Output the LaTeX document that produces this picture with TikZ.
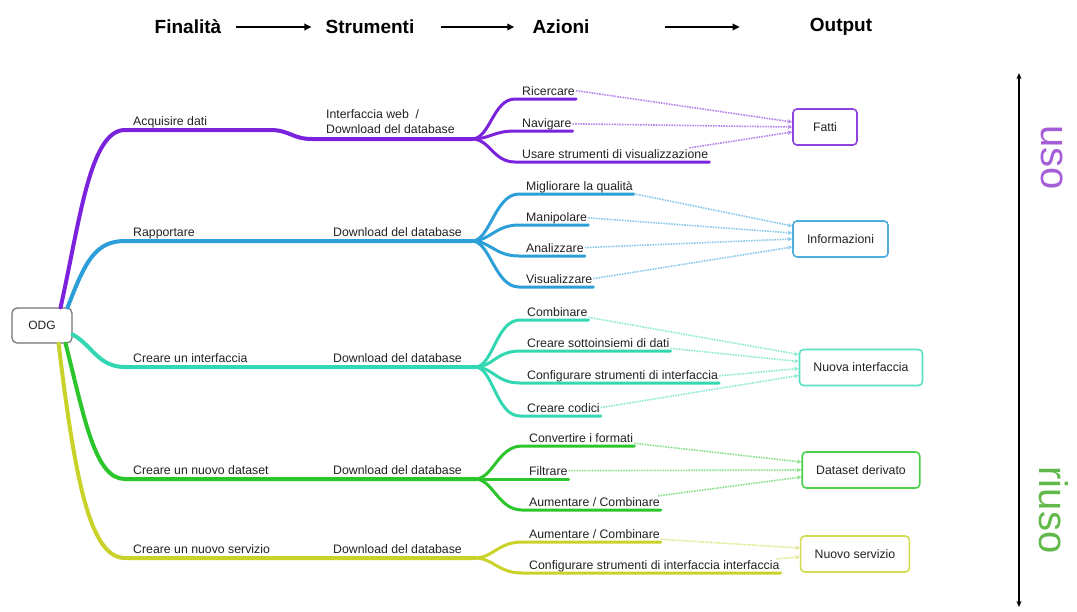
\documentclass[tikz,border=0pt]{standalone}
\usepackage{fontspec}
\setmainfont{Liberation Sans}
\usetikzlibrary{arrows.meta}
\definecolor{MPurple}{HTML}{7A22DC}
\definecolor{MBlue}{HTML}{2C9FD8}
\definecolor{MTeal}{HTML}{33D8B3}
\definecolor{MGreen}{HTML}{2CC62C}
\definecolor{MYellow}{HTML}{C8D228}
\definecolor{MText}{HTML}{222222}
\definecolor{MUso}{HTML}{A45ED8}
\definecolor{MRiuso}{HTML}{62B84A}
\tikzset{
  mmTrunk/.style={draw=#1, line width=4pt, line cap=round},
  mmLeaf/.style={draw=#1, line width=3pt, line cap=round},
  mmText/.style={font=\fontsize{12.3}{15}\selectfont, text=MText, inner sep=1pt},
  mmHead/.style={font=\fontsize{19}{22}\selectfont\bfseries, text=black, inner sep=0pt},
  mmOut/.style={
    rectangle, rounded corners=4pt, draw=#1, line width=1.6pt, fill=white,
    minimum height=36pt, inner xsep=14pt, font=\fontsize{12.3}{15}\selectfont, text=MText
  },
  mmFlow/.style={-{Stealth[length=4.5pt,width=4.5pt]}, draw=#1!55, densely dotted, line width=1.6pt},
  mmHdArrow/.style={-{Triangle[length=7pt,width=6.5pt]}, line width=1.8pt},
  mmSide/.style={font=\fontsize{40}{40}\selectfont, rotate=-90, inner sep=0pt}
}
\begin{document}
\begin{tikzpicture}[x=1pt, y=-1pt]
  \useasboundingbox (0,0) rectangle (1077,611);

  % header
  \node[mmHead] (fin) at (188,27) {Finalità};
  \node[mmHead] (str) at (370,27) {Strumenti};
  \node[mmHead] (azi) at (561,27) {Azioni};
  \node[mmHead] (out) at (841,27) {Output};
  \draw[mmHdArrow] ([xshift=15pt]fin.east) -- ([xshift=-14pt]str.west);
  \draw[mmHdArrow] ([xshift=26pt]str.east) -- ([xshift=-18pt]azi.west);
  \draw[mmHdArrow] ([xshift=75pt]azi.east) -- ([xshift=-70pt]out.west);

  % root
  \node[rectangle, rounded corners=5pt, draw=black!55, line width=1.2pt, fill=white,
        minimum width=60pt, minimum height=35pt, font=\fontsize{12}{15}\selectfont, text=MText] (odg) at (42,325.5) {ODG};

  % finalita and strumenti
  \coordinate (f1) at (472,139);
  \coordinate (f2) at (472,241);
  \coordinate (f3) at (475,367);
  \coordinate (f4) at (475,479);
  \coordinate (f5) at (475,558);
  \node[mmText, anchor=base west] (acq) at (132,125) {Acquisire dati};
  \node[mmText, anchor=base west] (rap) at (132,236) {Rapportare};
  \node[mmText, anchor=base west] (int) at (132,362) {Creare un interfaccia};
  \node[mmText, anchor=base west] (dat) at (132,474) {Creare un nuovo dataset};
  \node[mmText, anchor=base west] (ser) at (132,553) {Creare un nuovo servizio};
  \node[mmText, anchor=south west, align=left, inner sep=0pt] (web) at (326,134) {Interfaccia web \ /\\Download del database};
  \node[mmText, anchor=base east] (db2) at (463,236) {Download del database};
  \node[mmText, anchor=base east] (db3) at (463,362) {Download del database};
  \node[mmText, anchor=base east] (db4) at (463,474) {Download del database};
  \node[mmText, anchor=base east] (db5) at (463,553) {Download del database};

  \draw[mmTrunk=MPurple] ([xshift=-12pt]odg.north east) .. controls (80,220) and (90,130) .. (125,130)
    -- (270,130) .. controls (290,130) and (292,139) .. (312,139) -- (f1);
  \draw[mmTrunk=MBlue] ([xshift=-5pt]odg.north east) .. controls (85,262) and (95,241) .. (125,241) -- (f2);
  \draw[mmTrunk=MTeal] ([yshift=-9pt]odg.east) .. controls (92,345) and (98,367) .. (125,367) -- (f3);
  \draw[mmTrunk=MGreen] ([xshift=-7pt]odg.south east) .. controls (85,420) and (95,479) .. (125,479) -- (f4);
  \draw[mmTrunk=MYellow] ([xshift=-14pt]odg.south east) .. controls (75,480) and (90,558) .. (125,558) -- (f5);

  % output
  \node[mmOut=MPurple!85, minimum width=64pt] (fatti) at (825,127) {Fatti};
  \node[mmOut=MBlue!85] (inf) at (840.5,239) {Informazioni};
  \node[mmOut=MTeal!80] (nuo) at (861,367.5) {Nuova interfaccia};
  \node[mmOut=MGreen!85] (der) at (861,470) {Dataset derivato};
  \node[mmOut=MYellow!80] (srv) at (855,554) {Nuovo servizio};

  % azioni: acquisire dati
  \coordinate (ricL) at (515,99);
  \coordinate (navL) at (515,131);
  \coordinate (usaL) at (515,162);
  \node[mmText, anchor=base west] (ric) at (521,95) {Ricercare};
  \node[mmText, anchor=base west] (nav) at (521,127) {Navigare};
  \node[mmText, anchor=base west] (usa) at (521,158) {Usare strumenti di visualizzazione};
  \draw[mmLeaf=MPurple] (f1) .. controls +(18,0) and +(-22,0) .. (ricL) -- (ricL -| ric.east);
  \draw[mmLeaf=MPurple] (f1) .. controls +(18,0) and +(-22,0) .. (navL) -- (navL -| nav.east);
  \draw[mmLeaf=MPurple] (f1) .. controls +(18,0) and +(-22,0) .. (usaL) -- (usaL -| usa.east);
  \draw[mmFlow=MPurple] (ric.east) -- ([yshift=5pt]fatti.west);
  \draw[mmFlow=MPurple] (nav.east) -- (fatti.west);
  \draw[mmFlow=MPurple] ([xshift=-20pt]usa.north east) -- ([yshift=-5pt]fatti.west);

  % azioni: rapportare
  \coordinate (migL) at (519,194);
  \coordinate (manL) at (519,225);
  \coordinate (anaL) at (519,256);
  \coordinate (visL) at (519,287);
  \node[mmText, anchor=base west] (mig) at (525,190) {Migliorare la qualità};
  \node[mmText, anchor=base west] (man) at (525,221) {Manipolare};
  \node[mmText, anchor=base west] (ana) at (525,252) {Analizzare};
  \node[mmText, anchor=base west] (vis) at (525,283) {Visualizzare};
  \draw[mmLeaf=MBlue] (f2) .. controls +(18,0) and +(-24,0) .. (migL) -- (migL -| mig.east);
  \draw[mmLeaf=MBlue] (f2) .. controls +(18,0) and +(-24,0) .. (manL) -- (manL -| man.east);
  \draw[mmLeaf=MBlue] (f2) .. controls +(18,0) and +(-24,0) .. (anaL) -- (anaL -| ana.east);
  \draw[mmLeaf=MBlue] (f2) .. controls +(18,0) and +(-24,0) .. (visL) -- (visL -| vis.east);
  \draw[mmFlow=MBlue] (mig.south east) -- ([yshift=13pt]inf.west);
  \draw[mmFlow=MBlue] (man.east) -- ([yshift=6pt]inf.west);
  \draw[mmFlow=MBlue] (ana.east) -- (inf.west);
  \draw[mmFlow=MBlue] (vis.east) -- ([yshift=-8pt]inf.west);

  % azioni: creare un interfaccia
  \coordinate (comL) at (520,320);
  \coordinate (sotL) at (520,351);
  \coordinate (cfgL) at (520,383);
  \coordinate (codL) at (520,416);
  \node[mmText, anchor=base west] (com) at (526,316) {Combinare};
  \node[mmText, anchor=base west] (sot) at (526,347) {Creare sottoinsiemi di dati};
  \node[mmText, anchor=base west] (cfg) at (526,379) {Configurare strumenti di interfaccia};
  \node[mmText, anchor=base west] (cod) at (526,412) {Creare codici};
  \draw[mmLeaf=MTeal] (f3) .. controls +(18,0) and +(-24,0) .. (comL) -- (comL -| com.east);
  \draw[mmLeaf=MTeal] (f3) .. controls +(18,0) and +(-24,0) .. (sotL) -- (sotL -| sot.east);
  \draw[mmLeaf=MTeal] (f3) .. controls +(18,0) and +(-24,0) .. (cfgL) -- (cfgL -| cfg.east);
  \draw[mmLeaf=MTeal] (f3) .. controls +(18,0) and +(-24,0) .. (codL) -- (codL -| cod.east);
  \draw[mmFlow=MTeal] (com.south east) -- ([yshift=13pt]nuo.west);
  \draw[mmFlow=MTeal] (sot.south east) -- ([yshift=6pt]nuo.west);
  \draw[mmFlow=MTeal] (cfg.east) -- ([yshift=-1pt]nuo.west);
  \draw[mmFlow=MTeal] (cod.east) -- ([yshift=-8pt]nuo.west);

  % azioni: creare un nuovo dataset
  \coordinate (conL) at (522,446);
  \coordinate (filL) at (522,479);
  \coordinate (aumL) at (522,510);
  \node[mmText, anchor=base west] (con) at (528,442) {Convertire i formati};
  \node[mmText, anchor=base west] (fil) at (528,475) {Filtrare};
  \node[mmText, anchor=base west] (aum) at (528,506) {Aumentare / Combinare};
  \draw[mmLeaf=MGreen] (f4) .. controls +(18,0) and +(-24,0) .. (conL) -- (conL -| con.east);
  \draw[mmLeaf=MGreen] (f4) -- (filL) -- (filL -| fil.east);
  \draw[mmLeaf=MGreen] (f4) .. controls +(18,0) and +(-24,0) .. (aumL) -- (aumL -| aum.east);
  \draw[mmFlow=MGreen] (con.south east) -- ([yshift=8pt]der.west);
  \draw[mmFlow=MGreen] (fil.east) -- (der.west);
  \draw[mmFlow=MGreen] ([xshift=-3pt]aum.north east) -- ([yshift=-7pt]der.west);

  % azioni: creare un nuovo servizio
  \coordinate (au2L) at (522,542);
  \coordinate (cf2L) at (522,573);
  \node[mmText, anchor=base west] (au2) at (528,538) {Aumentare / Combinare};
  \node[mmText, anchor=base west] (cf2) at (528,569) {Configurare strumenti di interfaccia interfaccia};
  \draw[mmLeaf=MYellow] (f5) .. controls +(18,0) and +(-24,0) .. (au2L) -- (au2L -| au2.east);
  \draw[mmLeaf=MYellow] (f5) .. controls +(18,0) and +(-24,0) .. (cf2L) -- (cf2L -| cf2.east);
  \draw[mmFlow=MYellow] (au2.south east) -- ([yshift=6pt]srv.west);
  \draw[mmFlow=MYellow] ([xshift=-5pt]cf2.north east) -- ([yshift=-3pt]srv.west);

  % uso / riuso
  \coordinate (axTop) at (1019,73);
  \coordinate (axBot) at (1019,607);
  \draw[{Stealth[length=6pt,width=5pt]}-{Stealth[length=6pt,width=5pt]}, line width=1.6pt] (axTop) -- (axBot);
  \node[mmSide, text=MUso] (uso) at (1052,158) {uso};
  \node[mmSide, text=MRiuso] (riuso) at (1054,510) {riuso};
\end{tikzpicture}
\end{document}
